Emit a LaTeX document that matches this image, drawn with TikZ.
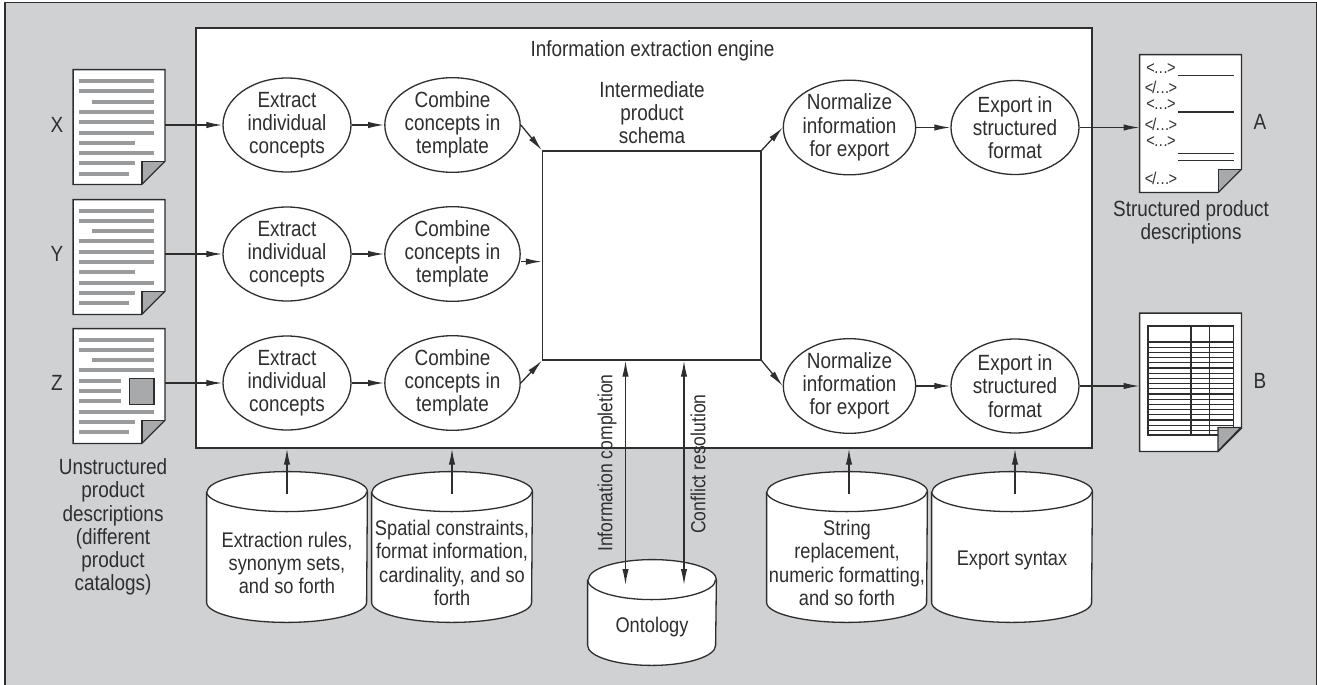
\documentclass[tikz,border=0pt]{standalone}
\usepackage{fontspec}
\setmainfont{Liberation Sans}[FakeStretch=0.86]
\usetikzlibrary{arrows.meta, backgrounds, shapes.geometric}

\definecolor{panelgray}{HTML}{D0D1D3}
\definecolor{inkgray}{HTML}{2E2E2E}
\definecolor{linegray}{HTML}{999A9C}
\definecolor{foldgray}{HTML}{A8A9AB}

\newcommand{\opentag}{<\kern-0.3pt.\kern0.3pt.\kern0.3pt.\kern-0.3pt>}
\newcommand{\closetag}{<\kern-0.5pt/\kern-0.3pt.\kern0.3pt.\kern0.3pt.\kern-0.3pt>}

% outline of a sheet with its corner turned over
\newcommand{\sheet}[1]{
  \fill[white] (#1.north west) -- (#1.north east) -- ([yshift=11.5pt]#1.south east) -- ([xshift=-11.5pt]#1.south east) -- (#1.south west) -- cycle;
  \fill[foldgray] ([yshift=11.5pt]#1.south east) -- ([xshift=-11.5pt,yshift=11.5pt]#1.south east) -- ([xshift=-11.5pt]#1.south east) -- cycle;
  \draw[ink] (#1.north west) -- (#1.north east) -- ([yshift=11.5pt]#1.south east) -- ([xshift=-11.5pt]#1.south east) -- (#1.south west) -- cycle;
  \draw[ink] ([yshift=11.5pt]#1.south east) -- ([xshift=-11.5pt,yshift=11.5pt]#1.south east) -- ([xshift=-11.5pt]#1.south east);
}
% drum behind a store node: #2 half width, #3 height of the lid centre over the node
\newcommand{\drum}[3]{
  \coordinate (#1lid) at ([yshift=#3]#1.north);
  \begin{scope}[on background layer]
    \filldraw[ink, fill=white] ([yshift=#3]#1.north west) -- ([yshift=10pt]#1.south west)
      arc[start angle=180, end angle=360, x radius=#2, y radius=10pt]
      -- ([yshift=#3]#1.north east)
      arc[start angle=0, end angle=180, x radius=#2, y radius=10pt];
    \draw[ink] ([yshift=#3]#1.north west) arc[start angle=180, end angle=360, x radius=#2, y radius=10pt];
  \end{scope}
}

\begin{document}
\begin{tikzpicture}[x=0.5pt, y=-0.5pt, font=\fontsize{11}{11.6}\selectfont, text=inkgray]
    \tikzset{
      ink/.style={draw=inkgray, line width=0.65pt},
      flow/.style={ink, -{Latex[length=8pt, width=3.2pt]}},
      twoway/.style={ink, {Latex[length=8pt, width=3.2pt]}-{Latex[length=8pt, width=3.2pt]}},
      stepoval/.style={ink, ellipse, fill=white, minimum width=64pt, minimum height=47pt, inner sep=0pt, align=center},
      store/.style={minimum width=80pt, minimum height=59pt, inner sep=0pt, align=center, font=\fontsize{10.6}{11.6}\selectfont},
      page/.style={minimum width=45.5pt, minimum height=57pt, inner sep=0pt},
      caption/.style={align=center, inner sep=0pt},
      sidecap/.style={caption, rotate=90, font=\fontsize{10.2}{11.6}\selectfont},
      rowbar/.style={draw=linegray, line width=2pt},
      tag/.style={font=\fontsize{8.5}{10}\selectfont, inner sep=0pt},
    }
    \useasboundingbox (0,0) rectangle (1317,685);
    \begin{scope}[on background layer]
      \fill[panelgray] (5,2.5) rectangle (1316.5,685);
      \draw[ink, line width=0.9pt] (5,685) -- (5,2.5) -- (1316.5,2.5) -- (1316.5,685);
    \end{scope}
    \node[ink, fill=white, minimum width=448pt, minimum height=210pt, inner sep=0pt] (engine) at (644,238) {};
    \node[caption] (enginecap) at (652.5,51) {Information extraction engine};

    % middle schema
    \node[ink, fill=white, minimum width=109.25pt, minimum height=104.5pt, inner sep=0pt] (schema) at (651.75,255.5) {};
    \node[caption] (schemacap) at (652,112.5) {Intermediate\\product\\schema};

    % the three rows of steps
    \foreach \row/\ya in {X/125, Y/254, Z/383} {
      \node[stepoval] (ext\row) at (287,\ya) {Extract\\individual\\concepts};
      \node[stepoval] (cmb\row) at (452.5,\ya) {Combine\\concepts in\\template};
      \draw[flow] (ext\row) -- (cmb\row);
    }
    \foreach \row/\yb in {X/127.5, Z/386} {
      \node[stepoval] (nrm\row) at (849.5,\yb) {Normalize\\information\\for export};
      \node[stepoval] (exp\row) at (1015,\yb) {Export in\\structured\\format};
      \draw[flow] (nrm\row) -- (exp\row);
    }
    \draw[flow] (cmbX.east) -- (schema.north west);
    \draw[flow] ([yshift=-3.8pt]cmbY.east) -- ([yshift=-3.8pt]cmbY.east -| schema.west);
    \draw[flow] (cmbZ.east) -- (schema.south west);
    \draw[flow] (schema.north east) -- (nrmX.west);
    \draw[flow] (schema.south east) -- (nrmZ.west);

    % plain text sheets
    \node[page] (docX) at (119,127) {};
    \node[page] (docY) at (119,257) {};
    \node[page] (docZ) at (119,386) {};
    \foreach \doc in {docX,docY,docZ}
      \sheet{\doc}
    \foreach \ya in {81,210.5} {
      \foreach \k/\xa/\xb in {0/79/154,1/79/154,2/92/154,3/79/154,4/79/154,5/79/154,6/79/135,7/79/154,8/79/135}
        \draw[rowbar] (\xa,\ya+10.3*\k) -- (\xb,\ya+10.3*\k);
      \draw[rowbar] (79,\ya+92.7) -- (129,\ya+92.7);
    }
    \foreach \k/\xa/\xb in {0/79/154,1/79/154,2/92/154,3/79/154,4/79/121,5/79/121,6/79/121,7/79/154,8/79/135,9/79/129}
      \draw[rowbar] (\xa,339.5+10.3*\k) -- (\xb,339.5+10.3*\k);
    \node[ink, fill=foldgray, minimum width=12.25pt, minimum height=13pt, inner sep=0pt] (figZ) at (141.75,391.5) {};
    \foreach \row in {X,Y,Z}
      \draw[flow] (doc\row.east |- ext\row.west) -- (ext\row.west);

    \node[caption] (lblX) at (57,125) {X};
    \node[caption] (lblY) at (57,254) {Y};
    \node[caption] (lblZ) at (57,383) {Z};
    \node[caption] (srccap) at (113,527) {Unstructured\\product\\descriptions\\(different\\product\\catalogs)};

    % tagged sheet
    \node[page, minimum width=50.5pt, minimum height=68.5pt] (docA) at (1190.5,123.5) {};
    \sheet{docA}
    \foreach \y in {69,105,142}
      \node[tag] at (1161,\y) {\opentag};
    \foreach \y in {87,124,178}
      \node[tag] at (1161,\y) {\closetag};
    \foreach \y in {75.5,112,153.5,160.5}
      \draw[ink] (1178,\y) -- (1233.5,\y);
    \draw[flow] (expX.east) -- (expX.east -| docA.west);
    \node[caption] (lblA) at (1260,122) {A};
    \node[caption] (dstcap) at (1191,222.5) {Structured product\\descriptions};

    % table sheet
    \node[page, minimum width=50.5pt, minimum height=68.75pt] (docB) at (1190.5,382.25) {};
    \sheet{docB}
    \foreach \k in {0,...,17}
      \draw[ink] (1148,342+5.2*\k) -- (1233.5,342+5.2*\k);
    \draw[ink] (1148,326) rectangle (1233.5,435);
    \draw[ink] (1191,326) -- (1191,435) (1209.5,326) -- (1209.5,435);
    \fill[foldgray] (1241,427.5) -- (1218,427.5) -- (1218,451) -- cycle;
    \draw[ink] (1241,427.5) -- (1218,427.5) -- (1218,451) -- cycle;
    \draw[flow] (expZ.east) -- (expZ.east -| docB.west);
    \node[caption] (lblB) at (1260,381) {B};

    % data stores
    \node[store] (rules) at (287,563) {Extraction rules,\\synonym sets,\\and so forth};
    \node[store] (space) at (452,563) {Spatial constraints,\\format information,\\cardinality, and so\\forth};
    \node[store] (strng) at (847,563) {String\\replacement,\\numeric formatting,\\and so forth};
    \node[store, minimum height=62pt] (synx) at (1012,560) {Export syntax};
    \node[store, minimum width=64pt, minimum height=38pt] (onto) at (652,627) {Ontology};
    \drum{rules}{40pt}{6pt}
    \drum{space}{40pt}{6pt}
    \drum{strng}{40pt}{6pt}
    \drum{synx}{40pt}{3pt}
    \drum{onto}{32pt}{4.5pt}

    \draw[flow] ([yshift=-1pt]ruleslid) -- (ruleslid |- engine.south);
    \draw[flow] ([yshift=-1pt]spacelid) -- (spacelid |- engine.south);
    \draw[flow] ([xshift=1pt,yshift=-1pt]strnglid) -- ([xshift=1pt]strnglid |- engine.south);
    \draw[flow] ([xshift=1.5pt,yshift=-1pt]synxlid) -- ([xshift=1.5pt]synxlid |- engine.south);
    \coordinate (ic) at (625.5,585);
    \coordinate (cr) at (684,585);
    \draw[twoway] (ic |- schema.south) -- (ic);
    \draw[twoway] (cr |- schema.south) -- (cr);
    \node[sidecap] (iclbl) at (607,463) {Information completion};
    \node[sidecap] (crlbl) at (698,464) {Conflict resolution};
\end{tikzpicture}
\end{document}
